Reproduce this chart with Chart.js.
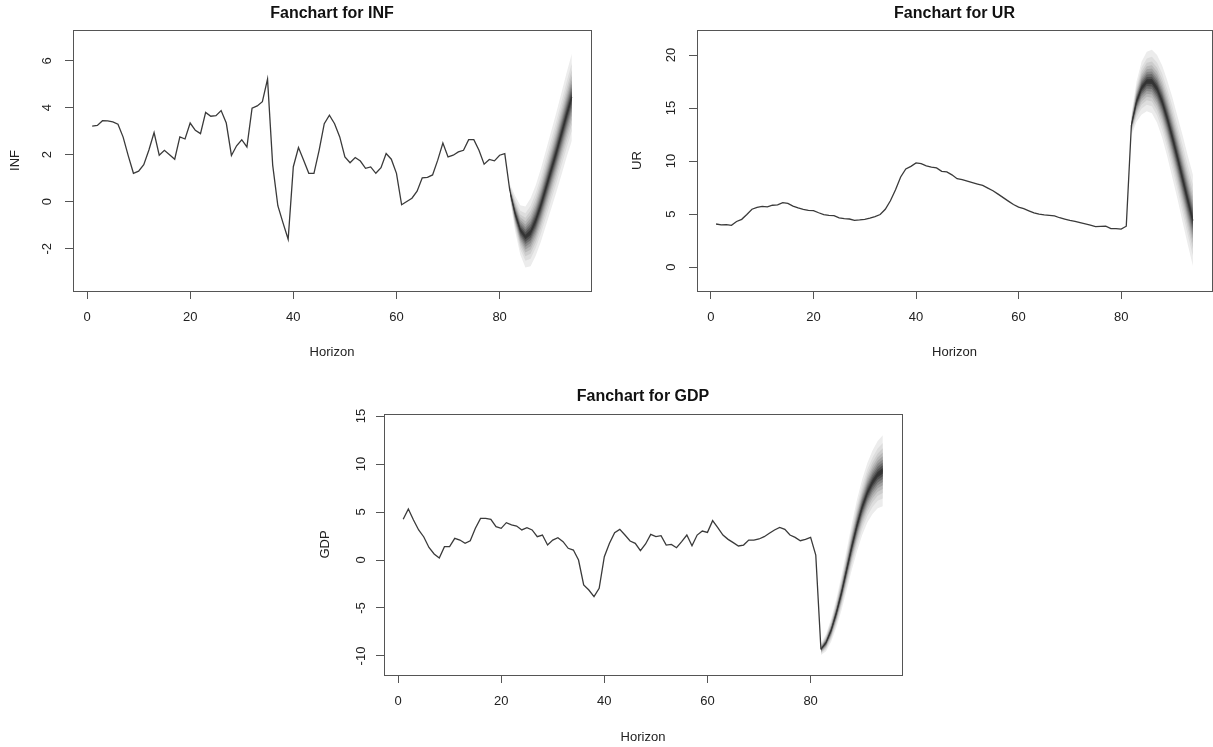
<!DOCTYPE html>
<html>
<head>
<meta charset="utf-8">
<script src="https://cdn.jsdelivr.net/npm/chart.js@4.4.1/dist/chart.umd.min.js"></script>
<style>
  html, body { margin: 0; padding: 0; background: #fff; }
  body { width: 1213px; height: 747px; position: relative; overflow: hidden; }
  canvas { position: absolute; }
</style>
</head>
<body>
<canvas id="chartInf" width="606" height="373" style="left:0px;top:0px"></canvas>
<canvas id="chartUr" width="607" height="373" style="left:606px;top:0px"></canvas>
<canvas id="chartGdp" width="620" height="374" style="left:300px;top:373px"></canvas>
<script>
// horizon axis (shared)
const horizonTicks = [0, 20, 40, 60, 80];
const horizonRange = [-2.72, 97.72];
const firstForecast = 82;

// fan: confidence levels and their normal quantiles, outer to inner
const ciLevels = [0.9, 0.8, 0.7, 0.6, 0.5, 0.4, 0.3, 0.2, 0.1];
const ciZ = [1.645, 1.282, 1.036, 0.842, 0.674, 0.524, 0.385, 0.253, 0.126];
const fanGreys = ["#ececec", "#dddddd", "#cccccc", "#b8b8b8", "#a1a1a1", "#888888", "#6c6c6c", "#505050", "#363636"];

// INF
const infObserved = [3.22, 3.25, 3.45, 3.44, 3.40, 3.30, 2.75, 1.95, 1.21, 1.30,
  1.58, 2.20, 2.94, 1.98, 2.19, 2.00, 1.81, 2.76, 2.67, 3.35,
  3.04, 2.90, 3.80, 3.64, 3.66, 3.88, 3.35, 1.97, 2.38, 2.64,
  2.33, 3.98, 4.08, 4.26, 5.22, 1.56, -0.17, -0.90, -1.60, 1.49,
  2.31, 1.77, 1.21, 1.21, 2.19, 3.32, 3.68, 3.32, 2.76, 1.91,
  1.66, 1.88, 1.73, 1.42, 1.48, 1.21, 1.45, 2.05, 1.81, 1.21,
  -0.13, 0.01, 0.15, 0.45, 1.02, 1.04, 1.14, 1.77, 2.50, 1.91,
  1.98, 2.12, 2.19, 2.64, 2.64, 2.19, 1.60, 1.80, 1.74, 1.98, 2.05];
const infForecast = [0.44, -0.50, -1.20, -1.50, -1.30, -0.80, -0.15, 0.60, 1.35, 2.10, 2.90, 3.70, 4.45];
const infSpread = [0.30, 0.75, 1.05, 1.30, 1.45, 1.50, 1.55, 1.60, 1.65, 1.70, 1.75, 1.80, 1.85];
const infTicks = [-2, 0, 2, 4, 6];
const infRange = [-3.8, 7.31];

// UR
const urObserved = [4.06, 3.97, 4.00, 3.93, 4.30, 4.50, 4.95, 5.45, 5.63, 5.72,
  5.68, 5.83, 5.86, 6.07, 6.00, 5.75, 5.58, 5.45, 5.35, 5.33,
  5.12, 4.95, 4.87, 4.85, 4.63, 4.56, 4.53, 4.41, 4.44, 4.50,
  4.62, 4.76, 4.95, 5.45, 6.25, 7.30, 8.50, 9.25, 9.50, 9.82,
  9.75, 9.55, 9.43, 9.35, 9.03, 8.97, 8.70, 8.33, 8.25, 8.10,
  7.96, 7.83, 7.70, 7.45, 7.20, 6.88, 6.55, 6.22, 5.90, 5.65,
  5.50, 5.30, 5.10, 5.00, 4.92, 4.87, 4.82, 4.65, 4.52, 4.40,
  4.30, 4.18, 4.07, 3.95, 3.82, 3.84, 3.86, 3.63, 3.62, 3.58, 3.85];
const urForecast = [13.4, 15.6, 16.9, 17.5, 17.5, 16.8, 15.6, 14.0, 12.2, 10.3, 8.3, 6.3, 4.4];
const urSpread = [1.0, 1.9, 2.5, 2.8, 3.0, 3.2, 3.4, 3.6, 3.8, 3.9, 4.1, 4.2, 4.3];
const urTicks = [0, 5, 10, 15, 20];
const urRange = [-2.26, 22.36];

// GDP
const gdpObserved = [4.24, 5.31, 4.17, 3.13, 2.40, 1.30, 0.63, 0.21, 1.39, 1.39,
  2.26, 2.08, 1.74, 2.01, 3.30, 4.34, 4.34, 4.24, 3.47, 3.30,
  3.89, 3.65, 3.54, 3.13, 3.37, 3.13, 2.43, 2.60, 1.56, 2.08,
  2.33, 1.91, 1.22, 1.04, 0.00, -2.60, -3.13, -3.82, -2.95, 0.35,
  1.74, 2.85, 3.19, 2.60, 1.98, 1.74, 0.97, 1.67, 2.67, 2.43,
  2.54, 1.56, 1.63, 1.28, 1.91, 2.60, 1.49, 2.60, 3.02, 2.88,
  4.10, 3.37, 2.60, 2.15, 1.81, 1.46, 1.56, 2.08, 2.08, 2.19,
  2.43, 2.78, 3.13, 3.40, 3.19, 2.60, 2.36, 2.01, 2.15, 2.36, 0.52];
const gdpForecast = [-9.3, -8.6, -7.3, -5.5, -3.4, -1.0, 1.4, 3.6, 5.5, 7.0, 8.1, 8.9, 9.3];
const gdpSpread = [0.6, 0.9, 1.2, 1.5, 1.8, 2.1, 2.4, 2.7, 2.9, 3.1, 3.3, 3.5, 3.7];
const gdpTicks = [-10, -5, 0, 5, 10, 15];
const gdpRange = [-11.98, 15.21];

Chart.defaults.font.family = '"Liberation Sans", Arial, Helvetica, sans-serif';
Chart.defaults.font.size = 13;
Chart.defaults.color = "#222";

const AXIS = "#555";

// R-style box around the plot region
const plotBox = {
  id: "plotBox",
  afterDraw(chart) {
    const a = chart.chartArea, c = chart.ctx;
    const al = v => Math.round(v - 0.5) + 0.5;
    c.save();
    c.strokeStyle = AXIS;
    c.lineWidth = 1;
    c.strokeRect(al(a.left), al(a.top), al(a.right) - al(a.left), al(a.bottom) - al(a.top));
    c.restore();
  }
};

function fanchart(id, name, observed, forecast, spread, yTicks, yRange, lay) {
  const datasets = [];
  ciZ.forEach((z, k) => {
    const share = z / ciZ[0];
    const lowIdx = datasets.length;
    datasets.push({
      label: "lower " + ciLevels[k],
      data: forecast.map((v, i) => ({ x: firstForecast + i, y: v - spread[i] * share })),
      borderWidth: 0, borderColor: "rgba(0,0,0,0)", pointRadius: 0, fill: false, order: 50 - k
    });
    datasets.push({
      label: "upper " + ciLevels[k],
      data: forecast.map((v, i) => ({ x: firstForecast + i, y: v + spread[i] * share })),
      borderWidth: 0, borderColor: "rgba(0,0,0,0)", pointRadius: 0,
      fill: { target: lowIdx }, backgroundColor: fanGreys[k], order: 50 - k
    });
  });
  datasets.push({
    label: "forecast",
    data: forecast.map((v, i) => ({ x: firstForecast + i, y: v })),
    borderColor: "#333", borderWidth: 1, pointRadius: 0, fill: false, order: 1
  });
  const obs = observed.map((v, i) => ({ x: i + 1, y: v }));
  obs.push({ x: firstForecast, y: forecast[0] });
  datasets.push({
    label: name,
    data: obs,
    borderColor: "#3a3a3a", borderWidth: 1.3, pointRadius: 0, fill: false, order: 0
  });

  return new Chart(document.getElementById(id), {
    type: "line",
    data: { datasets },
    options: {
      responsive: false,
      animation: false,
      events: [],
      layout: { padding: { left: 0, top: 0, right: lay.padRight, bottom: 0 } },
      plugins: {
        legend: { display: false },
        tooltip: { enabled: false },
        title: {
          display: true, text: "Fanchart for " + name, fullSize: false, color: "#111",
          font: { size: 16, weight: "bold" },
          padding: { top: lay.titleTop, bottom: lay.titleBottom }
        }
      },
      scales: {
        x: {
          type: "linear", min: horizonRange[0], max: horizonRange[1],
          afterBuildTicks: s => { s.ticks = horizonTicks.map(v => ({ value: v })); },
          afterFit: s => { s.height = lay.xHeight; },
          grid: { drawOnChartArea: false, drawTicks: true, tickLength: 8, tickColor: AXIS, tickWidth: 1 },
          border: { display: true, color: AXIS, width: 1 },
          ticks: { autoSkip: false, maxRotation: 0, padding: 11, color: "#222", callback: v => String(v) },
          title: { display: true, text: "Horizon", color: "#222", padding: { top: 0, bottom: lay.xTitleBottom } }
        },
        y: {
          type: "linear", min: yRange[0], max: yRange[1],
          afterBuildTicks: s => { s.ticks = yTicks.map(v => ({ value: v })); },
          afterFit: s => { s.width = lay.yWidth; },
          grid: { drawOnChartArea: false, drawTicks: true, tickLength: 8, tickColor: AXIS, tickWidth: 1 },
          border: { display: true, color: AXIS, width: 1 },
          ticks: { autoSkip: false, minRotation: 90, maxRotation: 90, crossAlign: "center", padding: lay.yTickPad, color: "#222", callback: v => String(v) },
          title: { display: true, text: name, color: "#222", padding: { top: lay.yTitlePad, bottom: 0 } }
        }
      }
    },
    plugins: [plotBox]
  });
}

fanchart("chartInf", "INF", infObserved, infForecast, infSpread, infTicks, infRange,
  { padRight: 15, titleTop: 3.6, titleBottom: 7.2, xHeight: 82, xTitleBottom: 13.2, yWidth: 73, yTickPad: 12.2, yTitlePad: 7.2 });
fanchart("chartUr", "UR", urObserved, urForecast, urSpread, urTicks, urRange,
  { padRight: 1, titleTop: 3.6, titleBottom: 7.2, xHeight: 82, xTitleBottom: 13.2, yWidth: 91, yTickPad: 10.8, yTitlePad: 23.2 });
fanchart("chartGdp", "GDP", gdpObserved, gdpForecast, gdpSpread, gdpTicks, gdpRange,
  { padRight: 18, titleTop: 14.4, titleBottom: 7.4, xHeight: 72, xTitleBottom: 2.2, yWidth: 84, yTickPad: 5.2, yTitlePad: 17.2 });
</script>
</body>
</html>
